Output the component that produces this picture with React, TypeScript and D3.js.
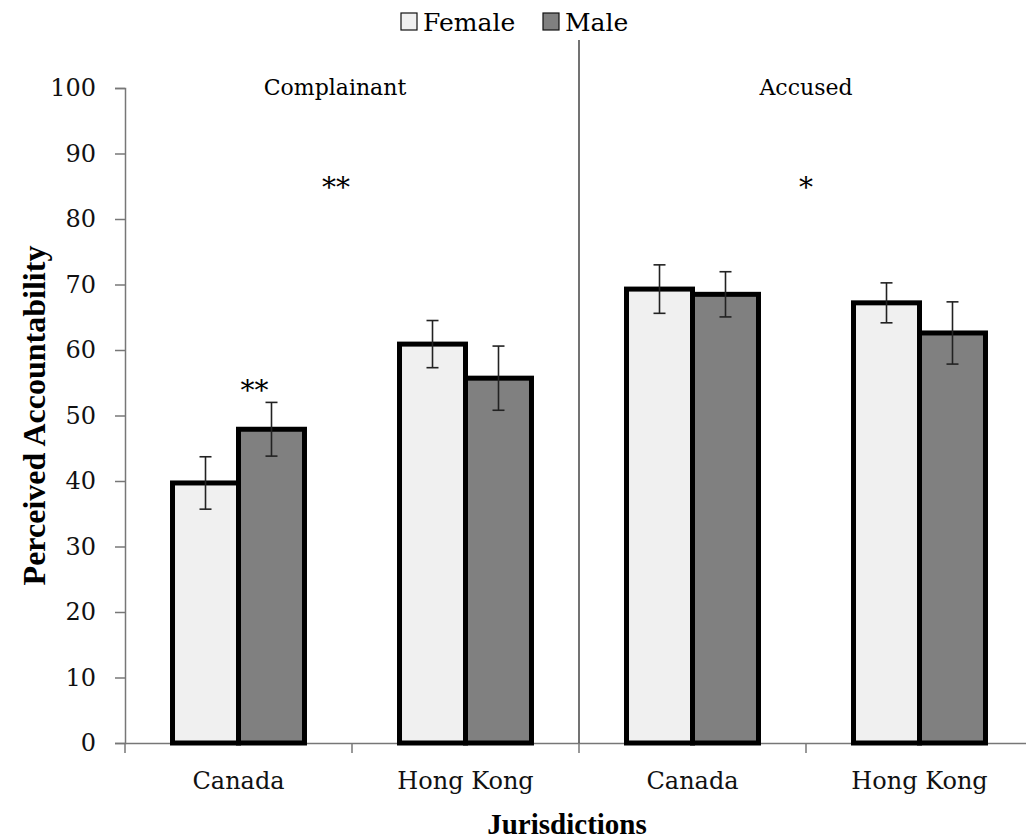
import { useEffect, useRef } from "react";
import * as d3 from "d3";

// values
const panels = ["Complainant", "Accused"];
const jurisdictions = ["Canada", "Hong Kong", "Canada", "Hong Kong"];
const groups = ["Female", "Male"];
const femaleMeans = [39.7, 60.9, 69.3, 67.2];
const maleMeans = [47.9, 55.7, 68.5, 62.6];
const femaleErr = [4.0, 3.6, 3.7, 3.05];
const maleErr = [4.1, 4.9, 3.45, 4.75];
const yTicks = [0, 10, 20, 30, 40, 50, 60, 70, 80, 90, 100];
// significance markers: [category position (fractional index), value, label]
const sigMarks: [number, number, string][] = [
    [0.43, 86, "**"],
    [2.5, 86, "*"],
    [0.07, 55, "**"],
];

export default function App() {
    const svgRef = useRef<SVGSVGElement>(null);

    const width = 1026;
    const height = 840;
    const left = 125;
    const right = 1033;
    const top = 88;
    const bottom = 743;
    const font = "DejaVu Serif, serif";
    const boldFont = "Liberation Serif, serif";

    useEffect(() => {
        const svg = d3.select(svgRef.current);
        svg.selectAll("*").remove();

        const x = d3
            .scaleBand<number>()
            .domain(d3.range(jurisdictions.length))
            .range([left, right])
            .padding(0);
        const xSub = d3
            .scaleBand<string>()
            .domain(groups)
            .range([0, x.bandwidth()])
            .paddingInner(0)
            .paddingOuter(0.72);
        const y = d3.scaleLinear().domain([0, 100]).range([bottom, top]);
        const fill = d3
            .scaleOrdinal<string, string>()
            .domain(groups)
            .range(["#f0f0f0", "#808080"]);

        const rows = d3.range(jurisdictions.length).flatMap((i) => [
            { i, g: "Female", v: femaleMeans[i], e: femaleErr[i] },
            { i, g: "Male", v: maleMeans[i], e: maleErr[i] },
        ]);

        // y axis
        const yAxis = svg
            .append("g")
            .attr("transform", `translate(${left},0)`)
            .attr("font-family", font)
            .call(d3.axisLeft(y).tickValues(yTicks).tickSize(10).tickPadding(19));
        yAxis.select(".domain").attr("stroke", "#777").attr("stroke-width", 1.5);
        yAxis.selectAll(".tick line").attr("stroke", "#777").attr("stroke-width", 1.5);
        yAxis
            .selectAll(".tick text")
            .attr("font-family", font)
            .attr("font-size", 24)
            .attr("fill", "#111");

        // x axis
        const xAxis = svg
            .append("g")
            .attr("transform", `translate(0,${bottom})`)
            .attr("font-family", font)
            .call(
                d3
                    .axisBottom(x)
                    .tickFormat((d) => jurisdictions[d as number])
                    .tickSize(0)
                    .tickPadding(29)
            );
        xAxis.select(".domain").attr("stroke", "#777").attr("stroke-width", 1.5);
        xAxis
            .selectAll(".tick text")
            .attr("font-family", font)
            .attr("font-size", 24)
            .attr("fill", "#111");
        // category boundary ticks
        svg.append("g")
            .selectAll("line")
            .data(d3.range(jurisdictions.length + 1))
            .join("line")
            .attr("x1", (d) => left + d * x.bandwidth())
            .attr("x2", (d) => left + d * x.bandwidth())
            .attr("y1", bottom)
            .attr("y2", bottom + 10)
            .attr("stroke", "#777")
            .attr("stroke-width", 1.5);

        // panel divider
        const mid = left + 2 * x.bandwidth();
        svg.append("line")
            .attr("x1", mid)
            .attr("x2", mid)
            .attr("y1", 40)
            .attr("y2", bottom)
            .attr("stroke", "#444")
            .attr("stroke-width", 1.5);

        // bars
        svg.append("g")
            .selectAll("rect")
            .data(rows)
            .join("rect")
            .attr("x", (d) => x(d.i)! + xSub(d.g)!)
            .attr("y", (d) => y(d.v))
            .attr("width", xSub.bandwidth())
            .attr("height", (d) => y(0) - y(d.v))
            .attr("fill", (d) => fill(d.g))
            .attr("stroke", "#000")
            .attr("stroke-width", 5);

        // error bars
        const err = svg
            .append("g")
            .selectAll("g")
            .data(rows)
            .join("g")
            .attr(
                "transform",
                (d) => `translate(${x(d.i)! + xSub(d.g)! + xSub.bandwidth() / 2},0)`
            )
            .attr("stroke", "#222")
            .attr("stroke-width", 1.6);
        err.append("line")
            .attr("y1", (d) => y(d.v + d.e))
            .attr("y2", (d) => y(d.v - d.e));
        err.append("line")
            .attr("x1", -6)
            .attr("x2", 6)
            .attr("y1", (d) => y(d.v + d.e))
            .attr("y2", (d) => y(d.v + d.e));
        err.append("line")
            .attr("x1", -6)
            .attr("x2", 6)
            .attr("y1", (d) => y(d.v - d.e))
            .attr("y2", (d) => y(d.v - d.e));

        // panel labels
        svg.append("g")
            .selectAll("text")
            .data(panels)
            .join("text")
            .attr("x", (d, i) => left + (i * 2 + 1) * x.bandwidth() - (i === 0 ? 17 : 0))
            .attr("y", 95)
            .attr("text-anchor", "middle")
            .attr("font-family", font)
            .attr("font-size", 22)
            .text((d) => d);

        // significance stars
        svg.append("g")
            .selectAll("text")
            .data(sigMarks)
            .join("text")
            .attr("x", (d) => left + (d[0] + 0.5) * x.bandwidth())
            .attr("y", (d) => y(d[1]) + 17)
            .attr("text-anchor", "middle")
            .attr("font-family", font)
            .attr("font-size", 28)
            .text((d) => d[2]);

        // legend
        const legend = svg
            .append("g")
            .selectAll("g")
            .data(groups)
            .join("g")
            .attr("transform", (d, i) => `translate(${401 + i * 142},13)`);
        legend
            .append("rect")
            .attr("width", 16)
            .attr("height", 17)
            .attr("fill", (d) => fill(d))
            .attr("stroke", "#111")
            .attr("stroke-width", 1.2);
        legend
            .append("text")
            .attr("x", 22)
            .attr("y", 18)
            .attr("font-family", font)
            .attr("font-size", 25)
            .text((d) => d);

        // axis titles
        svg.append("text")
            .attr("x", 567)
            .attr("y", 834)
            .attr("text-anchor", "middle")
            .attr("font-family", boldFont)
            .attr("font-weight", "bold")
            .attr("font-size", 29)
            .text("Jurisdictions");
        svg.append("text")
            .attr("transform", `translate(45,${(top + bottom) / 2}) rotate(-90)`)
            .attr("text-anchor", "middle")
            .attr("font-family", boldFont)
            .attr("font-weight", "bold")
            .attr("font-size", 32)
            .text("Perceived Accountability");
    }, []);

    return (
        <div style={{ position: "absolute", left: 0, top: 0 }}>
            <svg
                ref={svgRef}
                width={width}
                height={height}
                style={{ display: "block", background: "#fff" }}
            ></svg>
        </div>
    );
}
